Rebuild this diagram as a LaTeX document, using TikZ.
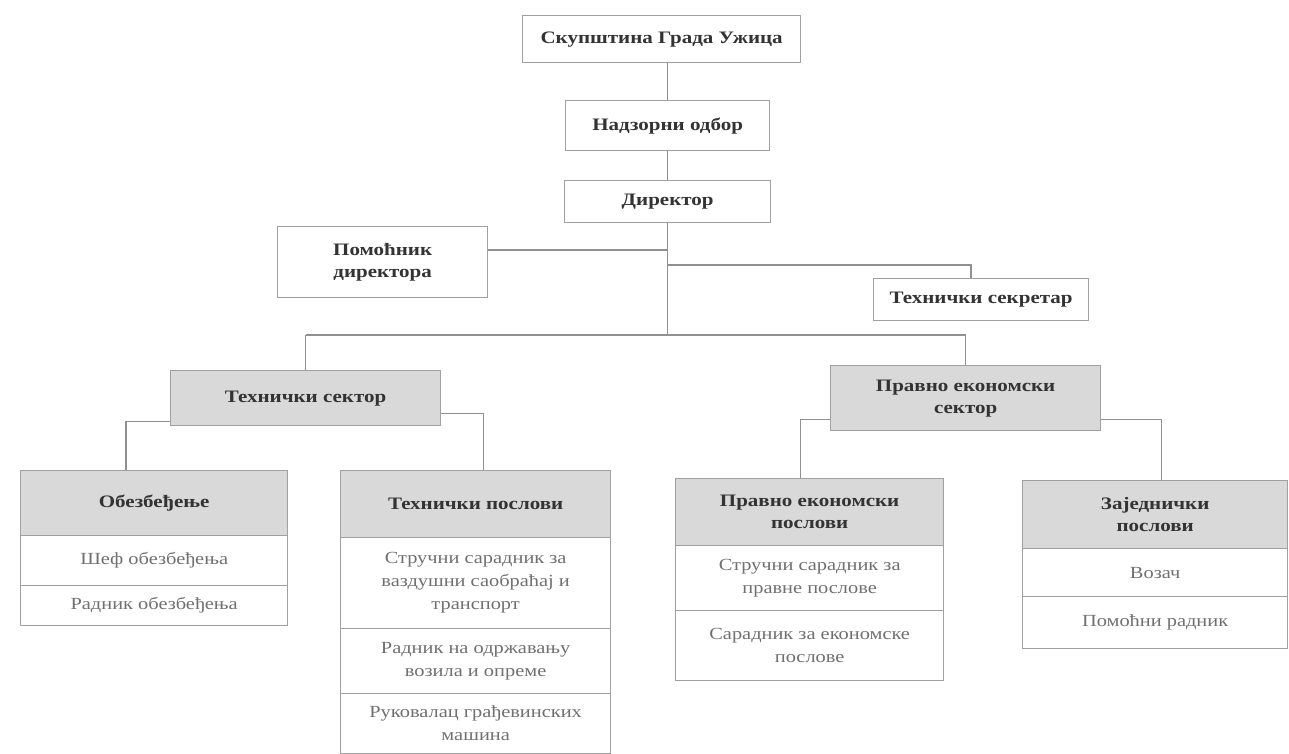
\documentclass[tikz,border=0pt]{standalone}
\usepackage{fontspec}
\setmainfont{Liberation Serif}[FakeStretch=1.2]
\definecolor{bordc}{HTML}{A0A0A0}
\definecolor{linec}{HTML}{909090}
\definecolor{hdc}{HTML}{D9D9D9}
\definecolor{txtd}{HTML}{333333}
\definecolor{txtl}{HTML}{707070}
\begin{document}
\begin{tikzpicture}[x=1pt,y=-1pt,
  box/.style={draw=bordc, line width=1.3pt, fill=white, align=center, inner sep=2pt,
    anchor=north west, text=txtd, font=\bfseries\fontsize{17.5}{22}\selectfont},
  hd/.style={box, fill=hdc},
  cell/.style={draw=bordc, line width=1.3pt, fill=white, align=center, inner sep=2pt,
    anchor=north west, text=txtl, font=\fontsize{17}{23}\selectfont},
  conn/.style={draw=linec, line width=1.5pt}]
\useasboundingbox (0,0) rectangle (1289,753);
% top levels
\node[box, minimum width=278pt, minimum height=47pt] (top) at (522,15) {Скупштина Града Ужица};
\node[box, minimum width=204pt, minimum height=50pt] (nad) at (565,100) {Надзорни одбор};
\node[box, minimum width=206pt, minimum height=42pt] (dir) at (564,180) {Директор};
\node[box, minimum width=210pt, minimum height=71pt] (pom) at (277,226) {Помоћник\\директора};
\node[box, minimum width=215pt, minimum height=42pt] (sek) at (873,278) {Технички секретар};
% sectors
\node[hd, minimum width=270pt, minimum height=55pt] (ts) at (170,370) {Технички сектор};
\node[hd, minimum width=270pt, minimum height=65pt] (pes) at (830,365) {Правно економски\\сектор};
% Обезбеђење
\node[hd, minimum width=267pt, minimum height=65pt] (ob) at (20,470) {Обезбеђење};
\node[cell, minimum width=267pt, minimum height=50pt] (ob1) at (20,535) {Шеф обезбеђења};
\node[cell, minimum width=267pt, minimum height=40pt] (ob2) at (20,585) {Радник обезбеђења};
% Технички послови
\node[hd, minimum width=270pt, minimum height=67pt] (tp) at (340,470) {Технички послови};
\node[cell, minimum width=270pt, minimum height=91pt] (tp1) at (340,537) {Стручни сарадник за\\ваздушни саобраћај и\\транспорт};
\node[cell, minimum width=270pt, minimum height=65pt] (tp2) at (340,628) {Радник на одржавању\\возила и опреме};
\node[cell, minimum width=270pt, minimum height=60pt] (tp3) at (340,693) {Руковалац грађевинских\\машина};
% Правно економски послови
\node[hd, minimum width=268pt, minimum height=67pt] (pep) at (675,478) {Правно економски\\послови};
\node[cell, minimum width=268pt, minimum height=65pt] (pep1) at (675,545) {Стручни сарадник за\\правне послове};
\node[cell, minimum width=268pt, minimum height=70pt] (pep2) at (675,610) {Сарадник за економске\\послове};
% Заједнички послови
\node[hd, minimum width=265pt, minimum height=68pt] (zp) at (1022,480) {Заједнички\\послови};
\node[cell, minimum width=265pt, minimum height=48pt] (zp1) at (1022,548) {Возач};
\node[cell, minimum width=265pt, minimum height=52pt] (zp2) at (1022,596) {Помоћни радник};
% connectors
\coordinate (bus) at (667,335);
\coordinate (jp) at (667,250);
\coordinate (js) at (667,265);
\draw[conn] (nad.north |- top.south) -- (nad.north);
\draw[conn] (nad.south) -- (dir.north);
\draw[conn] (dir.south) -- (dir.south |- bus);
\draw[conn] (pom.east |- jp) -- (dir.south |- jp);
\draw[conn] (dir.south |- js) -| ([xshift=-10pt]sek.north);
\draw[conn] (ts.north |- bus) -- (pes.north |- bus);
\draw[conn] (ts.north |- bus) -- (ts.north);
\draw[conn] (pes.north |- bus) -- (pes.north);
\draw[conn] ([yshift=5pt]ts.south west) -| ([xshift=-28pt]ob.north);
\draw[conn] ([yshift=13pt]ts.south east) -| ([xshift=8pt]tp.north);
\draw[conn] ([yshift=12pt]pes.south west) -| ([xshift=-9pt]pep.north);
\draw[conn] ([yshift=12pt]pes.south east) -| ([xshift=6.5pt]zp.north);
\end{tikzpicture}
\end{document}
